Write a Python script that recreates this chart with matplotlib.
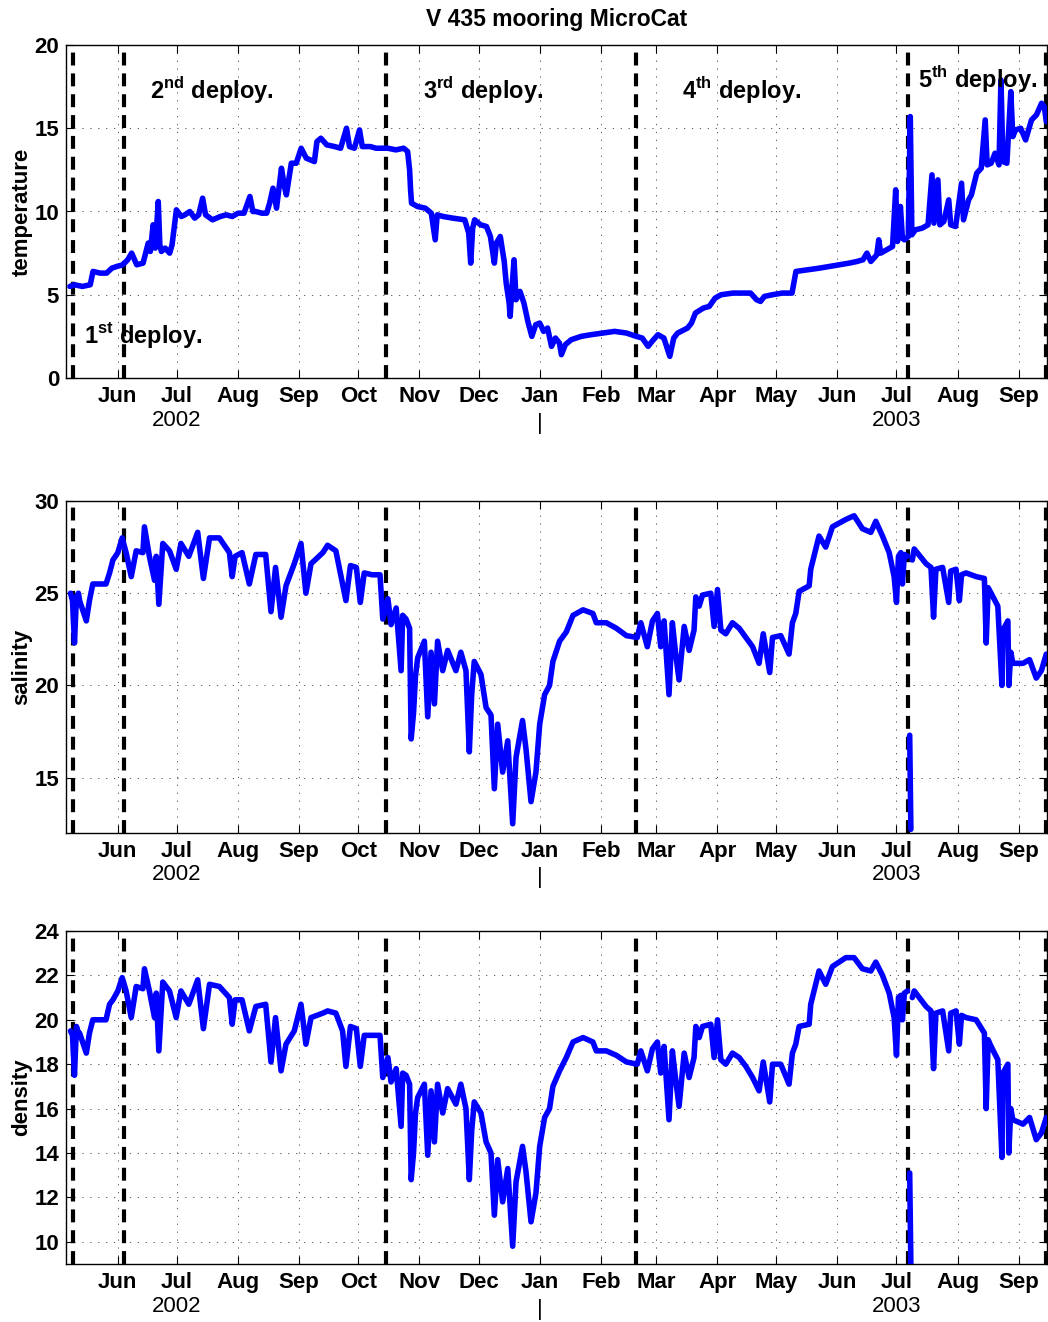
import numpy as np
import matplotlib
matplotlib.use('Agg')
import matplotlib.pyplot as plt
import matplotlib.dates as mdates

# Fonts (Helvetica-like, bold as in the MATLAB figure)
plt.rcParams['font.family'] = ['Liberation Sans', 'DejaVu Sans']
plt.rcParams['font.weight'] = 'bold'
plt.rcParams['mathtext.fontset'] = 'custom'
plt.rcParams['mathtext.rm'] = 'Liberation Sans:bold'
plt.rcParams['mathtext.bf'] = 'Liberation Sans:bold'

# Reference date: days below are counted from 1 Jun 2002
T0 = np.datetime64('2002-06-01')
X_RANGE = (-26.3, 471.1)
NA = np.nan  # gap in the record

# Temperature
temp_day = [-24.3, -22, -18, -14, -12.6, -9, -5.7, -3, -0.5, 2.5, 5, 7, 9.6, 12.8, 15.4, 16.5,
            17.9, 19, 20.5, 21.3, 22.1, 24, 26.3, 27.5, 29.7, 32.2, 34, 36.5, 39, 41, 43, 44.5,
            48, 52, 55, 58, 61, 64, 67, 68.5, 70, 73, 75.5, 77, 78.7, 80.5, 83, 84.5, 85.5, 88,
            90.5, 93, 95.6, 99.7, 101, 103, 106, 110, 113, 116, 117.5, 120, 122.6, 124, 128,
            131, 134, 137, 141, 145, 147, 148, 148.5, 149, 152, 156, 159, 161, 162, 165, 170,
            176, 178, 179, 180, 181, 184, 187, 189, 191, 192, 194, 196, 197, 198.5, 199, 200,
            201, 202, 204, 206, 208, 210, 212, 214, 216, 218, 220, 222, 224, 225, 227, 230,
            235, 240, 246, 252, 258, 263, 266, 269, 271, 274, 277, 280, 282, 284, 289, 291,
            293, 297, 300, 303, 306, 312, 318, 321, 324, 326, 328, 332, 337, 342, 344, 350,
            356, 361, 366, 371, 375, 378, 380, 382, 385, 386, 387, 390, 393, 394.6, 395.5, 397,
            398, 399, 401, 402, 402.8, 404.6, 408, 411, 413, 414, 416, 417, 419, 421.5, 422.5,
            425, 428, 429, 431.6, 433, 435.7, 438, 440, 441, 443, 445, 447, 448, 449, 451, 453,
            454, 455.4, 458, 460.5, 463.5, 466, 468.6, 470, 471]
temp_val = [5.5, 5.6, 5.5, 5.6, 6.4, 6.3, 6.3, 6.6, 6.7, 6.8, 7.1, 7.5, 6.8, 6.9, 8.1, 7.6,
            9.2, 7.8, 10.6, 8.0, 7.6, 7.8, 7.5, 8.0, 10.1, 9.7, 9.8, 10.0, 9.6, 9.8, 10.8, 9.8,
            9.5, 9.7, 9.8, 9.7, 9.9, 9.9, 10.9, 10.0, 10.0, 9.9, 9.9, 10.5, 11.4, 10.2, 12.6,
            11.5, 11.0, 12.9, 12.9, 13.8, 13.2, 13.0, 14.2, 14.4, 14.0, 13.9, 13.8, 15.0, 13.9,
            13.8, 14.9, 13.9, 13.9, 13.8, 13.8, 13.8, 13.7, 13.8, 13.6, 12.5, 11.3, 10.5, 10.3,
            10.2, 9.9, 8.3, 9.8, 9.7, 9.6, 9.5, 8.7, 6.9, 9.0, 9.5, 9.2, 9.1, 8.5, 6.9, 8.1,
            8.5, 7.0, 5.7, 4.5, 3.7, 5.5, 7.1, 4.7, 5.2, 4.5, 3.4, 2.5, 3.2, 3.3, 2.8, 3.0, 1.9,
            2.4, 2.1, 1.4, 2.0, 2.3, 2.5, 2.6, 2.7, 2.8, 2.7, 2.5, 2.4, 1.9, 2.2, 2.6, 2.4, 1.3,
            2.4, 2.7, 3.0, 3.3, 3.9, 4.2, 4.3, 4.8, 5.0, 5.1, 5.1, 5.1, 4.7, 4.6, 4.9, 5.0, 5.1,
            5.1, 6.4, 6.5, 6.6, 6.7, 6.8, 6.9, 7.0, 7.1, 7.5, 7.0, 7.4, 8.3, 7.5, 7.7, 7.9, 11.3,
            8.2, 10.3, 8.4, 8.3, 8.5, 15.7, 8.6, 8.9, 9.0, 9.2, 12.2, 9.3, 11.9, 9.2, 9.4, 10.7,
            9.2, 9.1, 11.7, 9.5, 10.7, 11.0, 12.3, 12.6, 15.5, 12.8, 12.9, 13.5, 12.8, 17.9,
            13.0, 12.9, 17.2, 14.5, 14.9, 15.0, 14.3, 15.5, 15.8, 16.5, 16.3, 15.4]

# Salinity
sal_day = [-24, -23, -22, -21, -20, -19.4, -16, -14.4, -12.7, -9, -6, -4.2, -2.5, 0, 2.2, 4.2,
           6.8, 9.3, 12.7, 13.5, 16, 18.6, 19.5, 20.8, 22.8, 26.2, 29.6, 32, 36, 40.5, 43.4,
           46.5, 51.5, 56.6, 58, 59.5, 63, 66.7, 70, 75, 77.7, 80, 82.8, 85.3, 89.5, 92.9,
           95.4, 98, 104, 106.4, 110.6, 114, 115.7, 118, 121, 123, 125, 129, 133, 134.4, 137,
           138.6, 141.2, 143.7, 144.5, 146.2, 148, 148.8, 150, 151, 152.1, 155.5, 157.2,
           158.9, 160.6, 162.2, 164.8, 167.3, 171.5, 174, 176.6, 178.3, 179.5, 180.8, 184.2,
           186.8, 189.3, 191, 192.7, 195.2, 197.8, 200.3, 202, 205.3, 207, 209.6, 212.1, 214,
           216.5, 219, 220.7, 224.1, 227.5, 230.9, 236, 241, 242.7, 247.8, 252.9, 258, 263.5,
           265.3, 268.6, 271.2, 273.7, 275.4, 277.1, 279.6, 281.3, 283, 284.7, 287.3, 289.8,
           292.3, 293.2, 294.9, 296.6, 300.8, 302.5, 304.2, 305.9, 308.4, 311.8, 315.2,
           318.6, 322, 325.3, 327.4, 330.7, 332.1, 336.3, 340.5, 342.2, 343.9, 345.6, 350.7,
           351.5, 355.7, 359.1, 362.5, 369.3, 373.5, 377.7, 382, 384.5, 387.9, 391.3, 393.8,
           395, 396, 397.2, 398, 399, 400.6, 401.5, 401.7, 402.3, 402.5, 403, 404, 410, 412.5,
           413.8, 415, 418.4, 421.5, 422.5, 425.2, 426.9, 428, 430.3, 435.4, 439.6, 440.5,
           441.5, 443, 446.4, 448.5, 449, 451.5, 452, 453, 454, 459.2, 462.5, 465.9, 468.5, 471]
sal_val = [25.0, 24.6, 22.3, 24.8, 25.0, 24.6, 23.5, 24.6, 25.5, 25.5, 25.5, 26.1, 26.8, 27.2,
           28.0, 27.2, 25.9, 27.3, 27.2, 28.6, 27.0, 25.7, 27.0, 24.4, 27.7, 27.3, 26.3, 27.7,
           27.0, 28.3, 25.8, 28.0, 28.0, 27.2, 25.9, 27.0, 27.2, 25.5, 27.1, 27.1, 24.0, 26.4,
           23.7, 25.4, 26.6, 27.7, 25.0, 26.6, 27.2, 27.6, 27.3, 25.5, 24.6, 26.5, 26.4, 24.5,
           26.1, 26.0, 26.0, 23.6, 24.7, 23.3, 24.2, 20.8, 23.8, 23.6, 23.1, 17.1, 18.5, 20.5,
           21.5, 22.4, 18.3, 21.8, 19.0, 22.4, 20.8, 21.9, 20.8, 21.8, 20.8, 16.4, 19.5, 21.3,
           20.6, 18.8, 18.4, 14.4, 17.9, 15.3, 17.0, 12.5, 16.1, 18.1, 16.6, 13.7, 15.3, 17.9,
           19.5, 20.0, 21.3, 22.4, 22.9, 23.8, 24.1, 23.9, 23.4, 23.4, 23.1, 22.7, 22.6, 23.4,
           22.1, 23.5, 23.9, 22.1, 23.5, 19.5, 23.4, 21.7, 20.3, 23.2, 21.9, 23.0, 24.8, 24.3,
           24.9, 25.0, 23.2, 25.2, 23.0, 22.8, 23.4, 23.1, 22.6, 22.1, 21.2, 22.8, 20.7, 22.6,
           22.7, 21.7, 23.4, 23.9, 25.1, 25.4, 26.3, 28.1, 27.5, 28.6, 29.0, 29.2, 28.5, 28.3,
           28.9, 28.1, 27.2, 25.9, 24.5, 27.0, 27.2, 25.5, 27.1, 27.0, NA, 17.3, 12.2, NA, 26.8,
           27.4, 26.6, 26.4, 23.7, 26.3, 26.4, 24.5, 26.2, 26.3, 24.6, 26.0, 26.1, 25.9, 25.8,
           22.3, 25.3, 25.0, 24.3, 20.0, 23.0, 23.5, 20.0, 21.8, 21.2, 21.2, 21.4, 20.4, 20.8,
           21.7]

# Density (same sampling days as salinity)
dens_day = sal_day
dens_val = [19.5, 19.3, 17.5, 19.7, 19.4, 19.4, 18.5, 19.4, 20.0, 20.0, 20.0, 20.7, 20.9, 21.3,
            21.9, 21.3, 20.1, 21.5, 21.4, 22.3, 21.3, 20.1, 21.2, 18.6, 21.7, 21.3, 20.1, 21.3,
            20.7, 21.8, 19.6, 21.6, 21.5, 21.0, 19.8, 20.9, 20.9, 19.5, 20.6, 20.7, 18.1, 20.1,
            17.7, 18.9, 19.5, 20.7, 18.9, 20.1, 20.3, 20.4, 20.3, 19.5, 17.9, 19.7, 19.6, 17.9,
            19.3, 19.3, 19.3, 17.4, 18.3, 17.2, 17.8, 15.2, 17.6, 17.5, 17.1, 12.8, 14.0, 15.8,
            16.5, 17.1, 13.9, 16.8, 14.5, 17.1, 15.8, 16.9, 16.2, 17.1, 16.0, 12.8, 15.0, 16.3,
            15.8, 14.5, 14.0, 11.2, 13.7, 11.8, 13.3, 9.8, 12.7, 14.3, 13.2, 10.9, 12.2, 14.3,
            15.6, 16.0, 17.0, 17.7, 18.3, 19.0, 19.2, 19.0, 18.6, 18.6, 18.4, 18.1, 18.0, 18.6,
            17.7, 18.7, 19.0, 17.6, 18.8, 15.5, 18.6, 17.3, 16.1, 18.5, 17.4, 18.3, 19.7, 19.2,
            19.7, 19.8, 18.3, 20.0, 18.2, 18.0, 18.5, 18.3, 17.9, 17.4, 16.8, 18.1, 16.3, 18.0,
            18.0, 17.1, 18.5, 18.9, 19.7, 19.8, 20.7, 22.2, 21.6, 22.4, 22.8, 22.8, 22.3, 22.2,
            22.6, 22.0, 21.2, 20.1, 18.4, 21.0, 21.1, 20.0, 21.2, 21.3, NA, 13.1, 8.9, NA, 21.0,
            21.3, 20.6, 20.4, 17.8, 20.3, 20.4, 18.6, 20.3, 20.4, 18.9, 20.2, 20.1, 20.0, 19.4,
            16.0, 19.1, 18.8, 18.2, 13.8, 17.6, 18.0, 14.0, 16.0, 15.5, 15.3, 15.6, 14.6, 14.9,
            15.6]

# Deployment boundaries and labels (temperature panel)
deploy_dates = ['2002-05-09', '2002-06-04', '2002-10-15', '2003-02-19', '2003-07-07', '2003-09-15']
deploy_text = ['1$^{\\mathbf{st}}$ deploy.', '2$^{\\mathbf{nd}}$ deploy.', '3$^{\\mathbf{rd}}$ deploy.',
               '4$^{\\mathbf{th}}$ deploy.', '5$^{\\mathbf{th}}$ deploy.']
deploy_text_day = [-17.2, 16.2, 155, 286.2, 405.8]
deploy_text_val = [2.1, 16.76, 16.76, 16.76, 17.4]

# Year markers under the month axis
year_text = ['2002', '|', '2003']
year_dates = ['2002-07-01', '2003-01-01', '2003-07-01']

t0 = mdates.date2num(T0)

fig = plt.figure(figsize=(10.48, 13.22), dpi=100)
W, H = 1048.0, 1322.0


def make_axes(top_px, bottom_px):
    return fig.add_axes([66 / W, 1 - bottom_px / H, (1046.5 - 66) / W, (bottom_px - top_px) / H])


def draw_panel(ax, days, vals, ylim, yticks, ylabel):
    for d in deploy_dates:
        ax.axvline(mdates.date2num(np.datetime64(d)), color='k', lw=3, dashes=(3.1, 1.9), zorder=2)
    ax.plot(t0 + np.asarray(days), vals, color='#0000ff', lw=4,
            solid_joinstyle='round', solid_capstyle='round', zorder=3)
    ax.set_xlim(t0 + X_RANGE[0], t0 + X_RANGE[1])
    ax.set_ylim(*ylim)
    ax.set_yticks(yticks)
    ax.xaxis.set_major_locator(mdates.MonthLocator())
    ax.xaxis.set_major_formatter(mdates.DateFormatter('%b'))
    ax.tick_params(direction='in', top=True, right=True, length=6, width=0.8,
                   labelsize=16, pad=6)
    ax.tick_params(axis='y', pad=5)
    ax.grid(True, color='0.25', lw=0.6, dashes=(1.5, 8))
    for s in ax.spines.values():
        s.set_linewidth(1.0)
    ax.set_ylabel(ylabel, fontsize=16, fontweight='bold', va='center')
    ax.yaxis.set_label_coords(-44 / 980.5, 0.5)
    h = ax.get_window_extent().height
    for txt, d in zip(year_text, year_dates):
        yoff = -45 / h if txt == '|' else -42 / h
        ax.text(mdates.date2num(np.datetime64(d)), yoff, txt, transform=ax.get_xaxis_transform(),
                ha='center', va='center', fontsize=16, fontweight='normal')


ax1 = make_axes(45, 378)
draw_panel(ax1, temp_day, temp_val, (0, 20), [0, 5, 10, 15, 20], 'temperature')
for txt, d, v in zip(deploy_text, deploy_text_day, deploy_text_val):
    ax1.text(t0 + d, v, txt, fontsize=17, ha='left', va='baseline', zorder=4)
ax1.set_title('V 435 mooring MicroCat', fontsize=16.5, fontweight='bold', pad=14)

ax2 = make_axes(501, 833)
draw_panel(ax2, sal_day, sal_val, (12, 30), [15, 20, 25, 30], 'salinity')

ax3 = make_axes(931, 1264)
draw_panel(ax3, dens_day, dens_val, (9, 24), [10, 12, 14, 16, 18, 20, 22, 24], 'density')

fig.savefig('out.png', dpi=100)
